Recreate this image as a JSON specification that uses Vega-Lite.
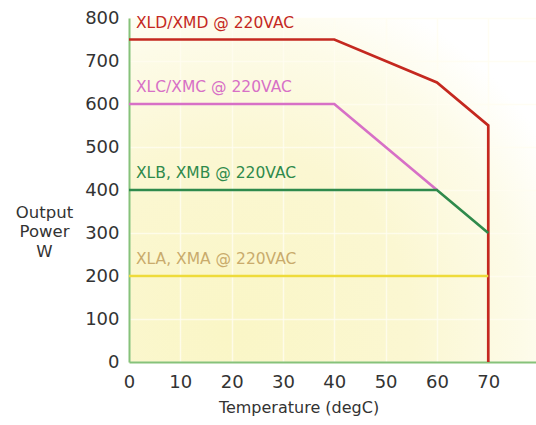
{
  "$schema": "https://vega.github.io/schema/vega-lite/v6.json",
  "width": 407,
  "height": 344,
  "autosize": {"type": "none"},
  "padding": {"left": 129, "top": 18, "right": 0, "bottom": 63},
  "background": "white",
  "config": {
    "view": {
      "stroke": null,
      "fill": {
        "gradient": "radial",
        "x1": 0.25, "y1": 0.85, "r1": 0,
        "x2": 0.25, "y2": 0.85, "r2": 0.9,
        "stops": [
          {"offset": 0, "color": "#faf6c6"},
          {"offset": 0.5, "color": "#fbf7d2"},
          {"offset": 0.8, "color": "#fdfbe8"},
          {"offset": 1, "color": "#ffffff"}
        ]
      }
    },
    "font": "DejaVu Sans"
  },
  "data": {
    "values": [
      {"series": "XLD/XMD @ 220VAC", "ord": 1, "temp": 0, "power": 750},
      {"series": "XLD/XMD @ 220VAC", "ord": 2, "temp": 40, "power": 750},
      {"series": "XLD/XMD @ 220VAC", "ord": 3, "temp": 60, "power": 650},
      {"series": "XLD/XMD @ 220VAC", "ord": 4, "temp": 70, "power": 550},
      {"series": "XLD/XMD @ 220VAC", "ord": 5, "temp": 70, "power": 0},
      {"series": "XLC/XMC @ 220VAC", "ord": 1, "temp": 0, "power": 600},
      {"series": "XLC/XMC @ 220VAC", "ord": 2, "temp": 40, "power": 600},
      {"series": "XLC/XMC @ 220VAC", "ord": 3, "temp": 60, "power": 400},
      {"series": "XLB, XMB @ 220VAC", "ord": 1, "temp": 0, "power": 400},
      {"series": "XLB, XMB @ 220VAC", "ord": 2, "temp": 60, "power": 400},
      {"series": "XLB, XMB @ 220VAC", "ord": 3, "temp": 70, "power": 300},
      {"series": "XLA, XMA @ 220VAC", "ord": 1, "temp": 0, "power": 200},
      {"series": "XLA, XMA @ 220VAC", "ord": 2, "temp": 70, "power": 200}
    ]
  },
  "encoding": {
    "x": {
      "field": "temp", "type": "quantitative",
      "scale": {"domain": [0, 79.3], "nice": false},
      "axis": {
        "values": [0, 10, 20, 30, 40, 50, 60, 70],
        "title": "Temperature (degC)",
        "titleFontSize": 16, "titleFontWeight": "normal", "titleColor": "#333333",
        "titleX": 169.5, "titleY": 45, "titleAlign": "center", "titleBaseline": "middle", "titleAnchor": null,
        "labelFontSize": 18, "labelColor": "#333333", "labelPadding": 11,
        "ticks": false, "domainColor": "#86c27a", "domainWidth": 2,
        "gridColor": "#fffdf0", "gridWidth": 1.5, "gridOpacity": 0.8,
        "labelFlush": false
      }
    },
    "y": {
      "field": "power", "type": "quantitative",
      "scale": {"domain": [0, 800], "nice": false},
      "axis": {
        "values": [0, 100, 200, 300, 400, 500, 600, 700, 800],
        "title": ["Output", "Power", "W"],
        "titleAngle": 0, "titleFontSize": 16.5, "titleFontWeight": "normal", "titleColor": "#333333",
        "titleX": -85, "titleY": 186, "titleAlign": "center", "titleBaseline": "top", "titleLineHeight": 19.5, "titleAnchor": null,
        "labelFontSize": 18, "labelColor": "#333333", "labelPadding": 10,
        "ticks": false, "domainColor": "#86c27a", "domainWidth": 2,
        "gridColor": "#fffdf0", "gridWidth": 1.5, "gridOpacity": 0.8
      }
    }
  },
  "layer": [
    {
      "mark": {"type": "line", "strokeWidth": 2.7},
      "encoding": {
        "order": {"field": "ord"},
        "color": {
          "field": "series", "type": "nominal", "legend": null,
          "scale": {
            "domain": ["XLD/XMD @ 220VAC", "XLC/XMC @ 220VAC", "XLB, XMB @ 220VAC", "XLA, XMA @ 220VAC"],
            "range": ["#c4281f", "#d770c6", "#2f8a4c", "#eedb3a"]
          }
        }
      }
    },
    {
      "transform": [{"filter": "datum.ord == 1"}],
      "mark": {"type": "text", "align": "left", "baseline": "middle", "dx": 7, "dy": -17, "fontSize": 15.5},
      "encoding": {
        "text": {"field": "series"},
        "color": {
          "field": "series", "type": "nominal", "legend": null,
          "scale": {
            "domain": ["XLD/XMD @ 220VAC", "XLC/XMC @ 220VAC", "XLB, XMB @ 220VAC", "XLA, XMA @ 220VAC"],
            "range": ["#c4281f", "#d770c6", "#2f8a4c", "#c9ab6c"]
          }
        }
      }
    }
  ],
  "resolve": {"scale": {"color": "independent"}}
}
